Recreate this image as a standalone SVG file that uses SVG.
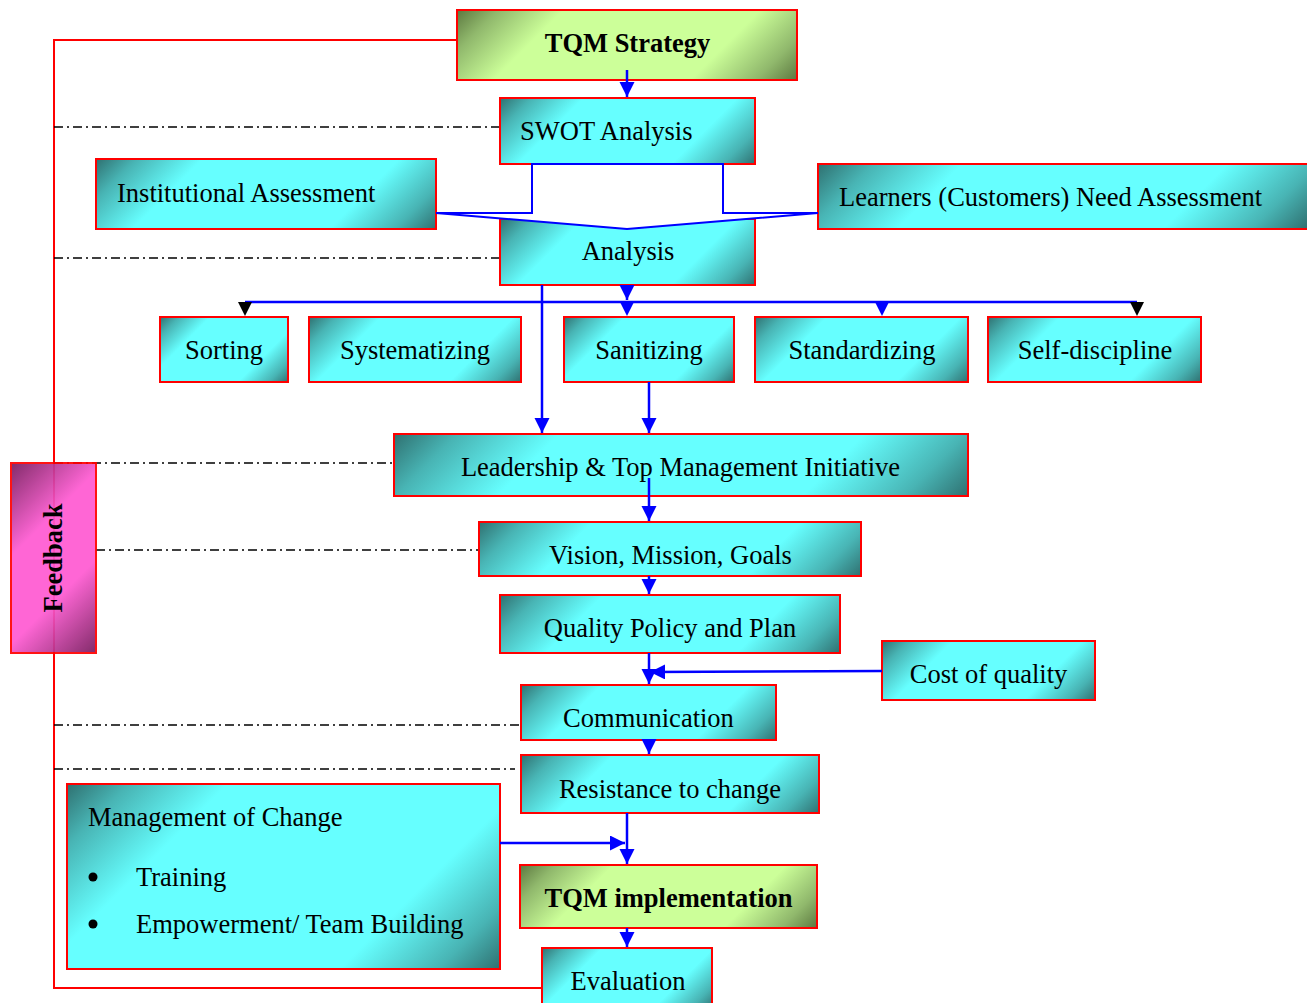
<svg xmlns="http://www.w3.org/2000/svg" width="1307" height="1003" viewBox="0 0 1307 1003">
<defs>
<linearGradient id="gc">
<stop offset="0" stop-color="#2f7070"/><stop offset="0.1" stop-color="#48b4b4"/><stop offset="0.26" stop-color="#66ffff"/><stop offset="0.74" stop-color="#66ffff"/><stop offset="0.9" stop-color="#48b4b4"/><stop offset="1" stop-color="#2f7070"/>
</linearGradient>
<linearGradient id="gg">
<stop offset="0" stop-color="#5c7840"/><stop offset="0.1" stop-color="#90b86c"/><stop offset="0.26" stop-color="#ccff99"/><stop offset="0.74" stop-color="#ccff99"/><stop offset="0.9" stop-color="#90b86c"/><stop offset="1" stop-color="#5c7840"/>
</linearGradient>
<linearGradient id="gp">
<stop offset="0" stop-color="#781a5e"/><stop offset="0.34" stop-color="#ff5ad2"/><stop offset="0.66" stop-color="#ff5ad2"/><stop offset="1" stop-color="#781a5e"/>
</linearGradient>
<linearGradient id="g1" href="#gg" gradientUnits="userSpaceOnUse" x1="457" y1="10" x2="662" y2="215"/>
<linearGradient id="g2" href="#gc" gradientUnits="userSpaceOnUse" x1="500" y1="98" x2="660.5" y2="258.5"/>
<linearGradient id="g3" href="#gc" gradientUnits="userSpaceOnUse" x1="96" y1="159" x2="301" y2="364"/>
<linearGradient id="g4" href="#gc" gradientUnits="userSpaceOnUse" x1="818" y1="164" x2="1095" y2="441"/>
<linearGradient id="g5" href="#gc" gradientUnits="userSpaceOnUse" x1="500" y1="219" x2="660.5" y2="379.5"/>
<linearGradient id="g6" href="#gc" gradientUnits="userSpaceOnUse" x1="160" y1="317" x2="256.5" y2="413.5"/>
<linearGradient id="g7" href="#gc" gradientUnits="userSpaceOnUse" x1="309" y1="317" x2="447.5" y2="455.5"/>
<linearGradient id="g8" href="#gc" gradientUnits="userSpaceOnUse" x1="564" y1="317" x2="681.5" y2="434.5"/>
<linearGradient id="g9" href="#gc" gradientUnits="userSpaceOnUse" x1="755" y1="317" x2="894" y2="456"/>
<linearGradient id="g10" href="#gc" gradientUnits="userSpaceOnUse" x1="988" y1="317" x2="1127" y2="456"/>
<linearGradient id="g11" href="#gc" gradientUnits="userSpaceOnUse" x1="394" y1="434" x2="712" y2="752"/>
<linearGradient id="g12" href="#gc" gradientUnits="userSpaceOnUse" x1="479" y1="522" x2="697" y2="740"/>
<linearGradient id="g13" href="#gc" gradientUnits="userSpaceOnUse" x1="500" y1="595" x2="699" y2="794"/>
<linearGradient id="g14" href="#gc" gradientUnits="userSpaceOnUse" x1="882" y1="641" x2="1018" y2="777"/>
<linearGradient id="g15" href="#gc" gradientUnits="userSpaceOnUse" x1="521" y1="685" x2="676" y2="840"/>
<linearGradient id="g16" href="#gc" gradientUnits="userSpaceOnUse" x1="521" y1="755" x2="699" y2="933"/>
<linearGradient id="g17" href="#gc" gradientUnits="userSpaceOnUse" x1="67" y1="784" x2="376" y2="1093"/>
<linearGradient id="g18" href="#gg" gradientUnits="userSpaceOnUse" x1="520" y1="865" x2="700" y2="1045"/>
<linearGradient id="g19" href="#gc" gradientUnits="userSpaceOnUse" x1="542" y1="948" x2="658" y2="1064"/>
<linearGradient id="g20" href="#gp" gradientUnits="userSpaceOnUse" x1="11" y1="463" x2="148.5" y2="600.5"/>
<marker id="ab" markerUnits="userSpaceOnUse" markerWidth="16" markerHeight="16" refX="15" refY="7.5" orient="auto">
<path d="M0,0 L15,7.5 L0,15 z" fill="#0000ff"/>
</marker>
</defs>
<style>
.n rect{stroke:#ff0000;stroke-width:2}
text{font-family:"Liberation Serif","Times New Roman",serif;font-size:26.5px;fill:#000}
.m{text-anchor:middle}
.b{font-weight:bold}
.bl{stroke:#0000ff;stroke-width:2.5;fill:none}
.dd{stroke:#000;stroke-width:1.5;stroke-dasharray:9 4 2 4;fill:none}
.fb{stroke:#ff0000;stroke-width:2;fill:none}
</style>

<g id="feedback-line">
<polyline class="fb" points="542,988 54,988 54,40 457,40"/>
</g>

<g id="guides">
<line class="dd" x1="54" y1="127" x2="500" y2="127"/>
<line class="dd" x1="54" y1="258" x2="500" y2="258"/>
<line class="dd" x1="54" y1="463" x2="394" y2="463"/>
<line class="dd" x1="96" y1="550" x2="479" y2="550"/>
<line class="dd" x1="54" y1="725" x2="521" y2="725"/>
<line class="dd" x1="54" y1="769" x2="515" y2="769"/>
</g>

<g id="tqm-strategy" class="n"><rect x="457" y="10" width="340" height="70" fill="url(#g1)"/><text class="m b" x="627.5" y="52">TQM Strategy</text></g>
<g id="swot" class="n"><rect x="500" y="98" width="255" height="66" fill="url(#g2)"/><text x="520" y="140">SWOT Analysis</text></g>
<g id="institutional" class="n"><rect x="96" y="159" width="340" height="70" fill="url(#g3)"/><text x="117" y="202">Institutional Assessment</text></g>
<g id="learners" class="n"><rect x="818" y="164" width="495" height="65" fill="url(#g4)"/><text x="839" y="206">Learners (Customers) Need Assessment</text></g>
<g id="analysis" class="n"><rect x="500" y="219" width="255" height="66" fill="url(#g5)"/><text class="m" x="628" y="260">Analysis</text></g>

<g id="sorting" class="n"><rect x="160" y="317" width="128" height="65" fill="url(#g6)"/><text class="m" x="224" y="359">Sorting</text></g>
<g id="systematizing" class="n"><rect x="309" y="317" width="212" height="65" fill="url(#g7)"/><text class="m" x="415" y="359">Systematizing</text></g>
<g id="sanitizing" class="n"><rect x="564" y="317" width="170" height="65" fill="url(#g8)"/><text class="m" x="649" y="359">Sanitizing</text></g>
<g id="standardizing" class="n"><rect x="755" y="317" width="213" height="65" fill="url(#g9)"/><text class="m" x="862" y="359">Standardizing</text></g>
<g id="self-discipline" class="n"><rect x="988" y="317" width="213" height="65" fill="url(#g10)"/><text class="m" x="1095" y="359">Self-discipline</text></g>

<g id="leadership" class="n"><rect x="394" y="434" width="574" height="62" fill="url(#g11)"/><text class="m" x="680.5" y="476">Leadership &amp; Top Management Initiative</text></g>
<g id="vision" class="n"><rect x="479" y="522" width="382" height="54" fill="url(#g12)"/><text class="m" x="670.5" y="564">Vision, Mission, Goals</text></g>
<g id="quality-policy" class="n"><rect x="500" y="595" width="340" height="58" fill="url(#g13)"/><text class="m" x="670" y="637">Quality Policy and Plan</text></g>
<g id="cost-of-quality" class="n"><rect x="882" y="641" width="213" height="59" fill="url(#g14)"/><text class="m" x="988.5" y="683">Cost of quality</text></g>
<g id="communication" class="n"><rect x="521" y="685" width="255" height="55" fill="url(#g15)"/><text class="m" x="648.5" y="727">Communication</text></g>
<g id="resistance" class="n"><rect x="521" y="755" width="298" height="58" fill="url(#g16)"/><text class="m" x="670" y="798">Resistance to change</text></g>
<g id="management-of-change" class="n"><rect x="67" y="784" width="433" height="185" fill="url(#g17)"/>
<text x="88" y="826">Management of Change</text>
<circle cx="93" cy="877" r="4.5" fill="#000"/><text x="136" y="886">Training</text>
<circle cx="93" cy="924" r="4.5" fill="#000"/><text x="136" y="933">Empowerment/ Team Building</text>
</g>
<g id="tqm-implementation" class="n"><rect x="520" y="865" width="297" height="63" fill="url(#g18)"/><text class="m b" x="668.5" y="907">TQM implementation</text></g>
<g id="evaluation" class="n"><rect x="542" y="948" width="170" height="62" fill="url(#g19)"/><text class="m" x="628" y="990">Evaluation</text></g>

<g id="feedback">
<rect x="11" y="463" width="85" height="190" fill="url(#g20)" stroke="#ff0000" stroke-width="2" opacity="0.92"/>
<text class="m b" transform="translate(62,558) rotate(-90)" x="0" y="0">Feedback</text>
</g>

<g id="connectors">
<line class="bl" x1="627" y1="70" x2="627" y2="97" marker-end="url(#ab)"/>
<polygon points="532,164 723,164 723,213 818,213 627,229 436,213 532,213" fill="#ffffff" stroke="#0000ff" stroke-width="2" stroke-linejoin="miter"/>
<line class="bl" x1="627" y1="285" x2="627" y2="300" marker-end="url(#ab)"/>
<line class="bl" x1="245" y1="302" x2="1137" y2="302"/>
<polygon points="238,302 252,302 245,316" fill="#000"/>
<polygon points="1130,302 1144,302 1137,316" fill="#000"/>
<polygon points="620,302 634,302 627,316" fill="#0000ff"/>
<polygon points="875,302 889,302 882,316" fill="#0000ff"/>
<line class="bl" x1="542" y1="285" x2="542" y2="433" marker-end="url(#ab)"/>
<line class="bl" x1="649" y1="382" x2="649" y2="433" marker-end="url(#ab)"/>
<line class="bl" x1="649" y1="478" x2="649" y2="521" marker-end="url(#ab)"/>
<line class="bl" x1="649" y1="576" x2="649" y2="594" marker-end="url(#ab)"/>
<line class="bl" x1="649" y1="653" x2="649" y2="684" marker-end="url(#ab)"/>
<line class="bl" x1="882" y1="671" x2="650" y2="672" marker-end="url(#ab)"/>
<line class="bl" x1="649" y1="740" x2="649" y2="754" marker-end="url(#ab)"/>
<line class="bl" x1="627" y1="813" x2="627" y2="864" marker-end="url(#ab)"/>
<line class="bl" x1="500" y1="843" x2="625" y2="843" marker-end="url(#ab)"/>
<line class="bl" x1="627" y1="928" x2="627" y2="947" marker-end="url(#ab)"/>
</g>
</svg>
